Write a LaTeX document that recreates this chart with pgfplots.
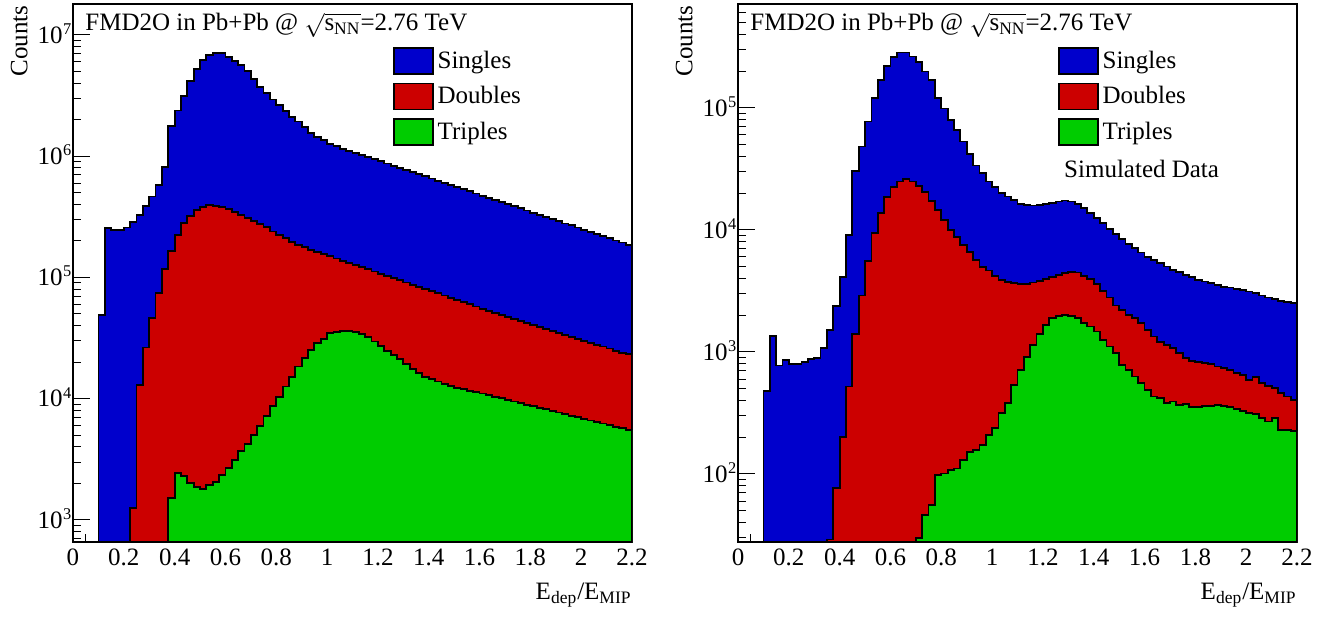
\documentclass[border=0pt]{standalone}
\usepackage{fontspec}
\setmainfont{Liberation Serif}
\usepackage{amsmath}
\usepackage{pgfplots}
\pgfplotsset{compat=1.18}
\definecolor{hblue}{RGB}{0,0,204}
\definecolor{hred}{RGB}{204,0,0}
\definecolor{hgreen}{RGB}{0,204,0}
\newcommand\f{\fontsize{12.5}{15}\selectfont}
\newcommand\tp[1]{10\kern0.3pt\smash{\raisebox{4.4pt}{\fontsize{8.2}{8.2}\selectfont #1}}}
\newcommand\ttl{FMD2O in Pb+Pb @ $\sqrt{\text{s}_{\text{NN}}}$=2.76 TeV}
\begin{document}
\begin{tikzpicture}
\path[use as bounding box] (-36.5pt,-37pt) rectangle (626pt,271pt);
\begin{axis}[
    scale only axis, width=279.5pt, height=269pt,
    xmin=0, xmax=2.2, ymode=log,
    axis line style={line width=0.6pt},
    tick style={line width=0.5pt, black},
    major tick length=8.5pt, minor tick length=4pt,
    xtick pos=bottom, ytick pos=left, tick align=inside,
    xtick={0,0.2,0.4,0.6,0.8,1,1.2,1.4,1.6,1.8,2,2.2},
    xticklabels={0,0.2,0.4,0.6,0.8,1,1.2,1.4,1.6,1.8,2,2.2},
    minor x tick num=3,
    tick label style={font=\f},
    yticklabel style={anchor=east, xshift=2.7pt},
    xlabel={E\textsubscript{dep}/E\textsubscript{MIP}},
    ylabel={Counts},
    x label style={at={(rel axis cs:1,0)}, anchor=north east, inner sep=0pt, yshift=-20.5pt, font=\f},
    y label style={at={(rel axis cs:0,1)}, anchor=south east, inner sep=0pt, yshift=22.5pt, xshift=-0.5pt, font=\f},
    legend style={at={(rel axis cs:0.5725,0.92)}, anchor=north west, draw=none, fill=none, inner sep=0pt, outer sep=0pt, row sep=3.5pt, font=\f},
    legend cell align=left,
    legend image code/.code={\draw[#1, line width=0.8pt] (0pt,-6.5pt) rectangle (19.5pt,6.5pt);},
    ymin=658, ymax=1.8e7,
    ytick={1e3,1e4,1e5,1e6,1e7},
    yticklabels={\tp{3},\tp{4},\tp{5},\tp{6},\tp{7}},
    minor ytick={700,800,900,2000,3000,4000,5000,6000,7000,8000,9000,2e4,3e4,4e4,5e4,6e4,7e4,8e4,9e4,2e5,3e5,4e5,5e5,6e5,7e5,8e5,9e5,2e6,3e6,4e6,5e6,6e6,7e6,8e6,9e6}]
\addplot[const plot mark left, draw=black, line width=0.9pt, fill=hblue] coordinates {(0.1,4.9e4)(0.125,2.55e5)(0.15,2.47e5)(0.175,2.47e5)(0.2,2.58e5)(0.225,2.88e5)(0.25,3.27e5)(0.275,3.89e5)(0.3,4.65e5)(0.325,5.79e5)(0.35,8.2e5)(0.375,1.78e6)(0.4,2.38e6)(0.425,3.16e6)(0.45,4.20e6)(0.475,5.25e6)(0.5,6.22e6)(0.525,6.84e6)(0.55,7.14e6)(0.575,7.06e6)(0.6,6.62e6)(0.625,6.14e6)(0.65,5.66e6)(0.675,5.08e6)(0.7,4.34e6)(0.725,3.70e6)(0.75,3.30e6)(0.775,2.94e6)(0.8,2.65e6)(0.825,2.36e6)(0.85,2.12e6)(0.875,1.93e6)(0.9,1.75e6)(0.925,1.56e6)(0.95,1.45e6)(0.975,1.36e6)(1.0,1.27e6)(1.025,1.21e6)(1.05,1.15e6)(1.075,1.109e6)(1.1,1.064e6)(1.125,1.023e6)(1.15,9.82e5)(1.175,9.42e5)(1.2,9.06e5)(1.225,8.69e5)(1.25,8.36e5)(1.275,8.02e5)(1.3,7.69e5)(1.325,7.40e5)(1.35,7.10e5)(1.375,6.82e5)(1.4,6.55e5)(1.425,6.28e5)(1.45,6.04e5)(1.475,5.79e5)(1.5,5.57e5)(1.525,5.35e5)(1.55,5.13e5)(1.575,4.93e5)(1.6,4.73e5)(1.625,4.55e5)(1.65,4.37e5)(1.675,4.19e5)(1.7,4.03e5)(1.725,3.86e5)(1.75,3.72e5)(1.775,3.56e5)(1.8,3.42e5)(1.825,3.29e5)(1.85,3.16e5)(1.875,3.03e5)(1.9,2.91e5)(1.925,2.79e5)(1.95,2.69e5)(1.975,2.58e5)(2.0,2.48e5)(2.025,2.38e5)(2.05,2.28e5)(2.075,2.19e5)(2.1,2.10e5)(2.125,2.02e5)(2.15,1.94e5)(2.175,1.86e5)(2.2,1.86e5)} \closedcycle;
\addplot[const plot mark left, draw=black, line width=0.9pt, fill=hred] coordinates {(0.225,1.25e3)(0.25,1.30e4)(0.275,2.64e4)(0.3,4.6e4)(0.325,7.4e4)(0.35,1.17e5)(0.375,1.66e5)(0.4,2.24e5)(0.425,2.80e5)(0.45,3.21e5)(0.475,3.60e5)(0.5,3.84e5)(0.525,3.96e5)(0.55,3.91e5)(0.575,3.79e5)(0.6,3.65e5)(0.625,3.49e5)(0.65,3.28e5)(0.675,3.08e5)(0.7,2.92e5)(0.725,2.76e5)(0.75,2.59e5)(0.775,2.39e5)(0.8,2.24e5)(0.825,2.11e5)(0.85,1.97e5)(0.875,1.85e5)(0.9,1.77e5)(0.925,1.69e5)(0.95,1.63e5)(0.975,1.56e5)(1.0,1.496e5)(1.025,1.435e5)(1.05,1.377e5)(1.075,1.321e5)(1.1,1.268e5)(1.125,1.216e5)(1.15,1.167e5)(1.175,1.119e5)(1.2,1.074e5)(1.225,1.030e5)(1.25,9.89e4)(1.275,9.48e4)(1.3,9.10e4)(1.325,8.73e4)(1.35,8.38e4)(1.375,8.04e4)(1.4,7.71e4)(1.425,7.40e4)(1.45,7.10e4)(1.475,6.81e4)(1.5,6.53e4)(1.525,6.27e4)(1.55,6.01e4)(1.575,5.77e4)(1.6,5.53e4)(1.625,5.31e4)(1.65,5.09e4)(1.675,4.89e4)(1.7,4.69e4)(1.725,4.52e4)(1.75,4.36e4)(1.775,4.20e4)(1.8,4.05e4)(1.825,3.90e4)(1.85,3.76e4)(1.875,3.61e4)(1.9,3.48e4)(1.925,3.36e4)(1.95,3.24e4)(1.975,3.12e4)(2.0,3.01e4)(2.025,2.90e4)(2.05,2.79e4)(2.075,2.69e4)(2.1,2.59e4)(2.125,2.49e4)(2.15,2.40e4)(2.175,2.32e4)(2.2,2.32e4)} \closedcycle;
\addplot[const plot mark left, draw=black, line width=0.9pt, fill=hgreen] coordinates {(0.375,1.51e3)(0.4,2.43e3)(0.425,2.31e3)(0.45,2.01e3)(0.475,1.88e3)(0.5,1.80e3)(0.525,1.95e3)(0.55,2.07e3)(0.575,2.35e3)(0.6,2.67e3)(0.625,3.12e3)(0.65,3.73e3)(0.675,4.24e3)(0.7,5.02e3)(0.725,5.96e3)(0.75,7.24e3)(0.775,8.71e3)(0.8,1.04e4)(0.825,1.26e4)(0.85,1.52e4)(0.875,1.84e4)(0.9,2.15e4)(0.925,2.52e4)(0.95,2.86e4)(0.975,3.09e4)(1.0,3.47e4)(1.025,3.57e4)(1.05,3.64e4)(1.075,3.64e4)(1.1,3.57e4)(1.125,3.43e4)(1.15,3.21e4)(1.175,2.96e4)(1.2,2.72e4)(1.225,2.49e4)(1.25,2.30e4)(1.275,2.11e4)(1.3,1.92e4)(1.325,1.76e4)(1.35,1.62e4)(1.375,1.52e4)(1.4,1.445e4)(1.425,1.384e4)(1.45,1.324e4)(1.475,1.274e4)(1.5,1.233e4)(1.525,1.197e4)(1.55,1.159e4)(1.575,1.130e4)(1.6,1.102e4)(1.625,1.069e4)(1.65,1.038e4)(1.675,1.007e4)(1.7,9.77e3)(1.725,9.48e3)(1.75,9.20e3)(1.775,8.93e3)(1.8,8.67e3)(1.825,8.41e3)(1.85,8.17e3)(1.875,7.93e3)(1.9,7.69e3)(1.925,7.46e3)(1.95,7.24e3)(1.975,7.03e3)(2.0,6.82e3)(2.025,6.62e3)(2.05,6.43e3)(2.075,6.24e3)(2.1,6.05e3)(2.125,5.87e3)(2.15,5.70e3)(2.175,5.53e3)(2.2,5.53e3)} \closedcycle;
\legend{Singles,Doubles,Triples}
\draw[line width=1pt] (rel axis cs:0,0) -- (rel axis cs:1,0);
\node[anchor=base west, inner sep=0pt, xshift=6pt, yshift=-13.5pt, font=\f] at (rel axis cs:0,1) {\ttl};
\end{axis}
\begin{axis}[at={(332.5pt,0pt)}, anchor=south west,
    scale only axis, width=279.5pt, height=269pt,
    xmin=0, xmax=2.2, ymode=log,
    axis line style={line width=0.6pt},
    tick style={line width=0.5pt, black},
    major tick length=8.5pt, minor tick length=4pt,
    xtick pos=bottom, ytick pos=left, tick align=inside,
    xtick={0,0.2,0.4,0.6,0.8,1,1.2,1.4,1.6,1.8,2,2.2},
    xticklabels={0,0.2,0.4,0.6,0.8,1,1.2,1.4,1.6,1.8,2,2.2},
    minor x tick num=3,
    tick label style={font=\f},
    yticklabel style={anchor=east, xshift=2.7pt},
    xlabel={E\textsubscript{dep}/E\textsubscript{MIP}},
    ylabel={Counts},
    x label style={at={(rel axis cs:1,0)}, anchor=north east, inner sep=0pt, yshift=-20.5pt, font=\f},
    y label style={at={(rel axis cs:0,1)}, anchor=south east, inner sep=0pt, yshift=22.5pt, xshift=-0.5pt, font=\f},
    legend style={at={(rel axis cs:0.5725,0.92)}, anchor=north west, draw=none, fill=none, inner sep=0pt, outer sep=0pt, row sep=3.5pt, font=\f},
    legend cell align=left,
    legend image code/.code={\draw[#1, line width=0.8pt] (0pt,-6.5pt) rectangle (19.5pt,6.5pt);},
    ymin=27.7, ymax=7.1e5,
    ytick={1e2,1e3,1e4,1e5},
    yticklabels={\tp{2},\tp{3},\tp{4},\tp{5}},
    minor ytick={30,40,50,60,70,80,90,200,300,400,500,600,700,800,900,2000,3000,4000,5000,6000,7000,8000,9000,2e4,3e4,4e4,5e4,6e4,7e4,8e4,9e4,2e5,3e5,4e5,5e5,6e5,7e5}]
\addplot[const plot mark left, draw=black, line width=0.9pt, fill=hblue] coordinates {(0.1,482)(0.125,1360)(0.15,773)(0.175,859)(0.2,792)(0.225,792)(0.25,832)(0.275,877)(0.3,897)(0.325,1070)(0.35,1510)(0.375,2380)(0.4,4140)(0.425,9100)(0.45,3.06e4)(0.475,4.82e4)(0.5,7.72e4)(0.525,1.20e5)(0.55,1.70e5)(0.575,2.21e5)(0.6,2.60e5)(0.625,2.84e5)(0.65,2.84e5)(0.675,2.64e5)(0.7,2.37e5)(0.725,1.99e5)(0.75,1.70e5)(0.775,1.20e5)(0.8,9.9e4)(0.825,7.98e4)(0.85,6.61e4)(0.875,5.30e4)(0.9,4.20e4)(0.925,3.37e4)(0.95,2.91e4)(0.975,2.49e4)(1.0,2.26e4)(1.025,2.02e4)(1.05,1.88e4)(1.075,1.76e4)(1.1,1.62e4)(1.125,1.60e4)(1.15,1.585e4)(1.175,1.60e4)(1.2,1.62e4)(1.225,1.66e4)(1.25,1.71e4)(1.275,1.74e4)(1.3,1.71e4)(1.325,1.62e4)(1.35,1.51e4)(1.375,1.38e4)(1.4,1.25e4)(1.425,1.135e4)(1.45,1.014e4)(1.475,9.23e3)(1.5,8.39e3)(1.525,7.69e3)(1.55,7.08e3)(1.575,6.53e3)(1.6,6.04e3)(1.625,5.68e3)(1.65,5.33e3)(1.675,5.01e3)(1.7,4.70e3)(1.725,4.50e3)(1.75,4.28e3)(1.775,4.09e3)(1.8,3.89e3)(1.825,3.78e3)(1.85,3.66e3)(1.875,3.55e3)(1.9,3.43e3)(1.925,3.37e3)(1.95,3.28e3)(1.975,3.22e3)(2.0,3.13e3)(2.025,3.03e3)(2.05,2.90e3)(2.075,2.79e3)(2.1,2.70e3)(2.125,2.62e3)(2.15,2.55e3)(2.175,2.51e3)(2.2,2.51e3)} \closedcycle;
\addplot[const plot mark left, draw=black, line width=0.9pt, fill=hred] coordinates {(0.35,29)(0.375,77)(0.4,202)(0.425,520)(0.45,1400)(0.475,2900)(0.5,5600)(0.525,9400)(0.55,1.37e4)(0.575,1.85e4)(0.6,2.24e4)(0.625,2.49e4)(0.65,2.60e4)(0.675,2.49e4)(0.7,2.30e4)(0.725,2.06e4)(0.75,1.73e4)(0.775,1.46e4)(0.8,1.21e4)(0.825,1.00e4)(0.85,8.81e3)(0.875,7.53e3)(0.9,6.56e3)(0.925,5.68e3)(0.95,5.00e3)(0.975,4.65e3)(1.0,4.20e3)(1.025,3.89e3)(1.05,3.77e3)(1.075,3.66e3)(1.1,3.61e3)(1.125,3.63e3)(1.15,3.70e3)(1.175,3.80e3)(1.2,3.94e3)(1.225,4.12e3)(1.25,4.27e3)(1.275,4.42e3)(1.3,4.52e3)(1.325,4.47e3)(1.35,4.22e3)(1.375,3.94e3)(1.4,3.59e3)(1.425,3.16e3)(1.45,2.79e3)(1.475,2.40e3)(1.5,2.19e3)(1.525,2.00e3)(1.55,1.89e3)(1.575,1.72e3)(1.6,1.51e3)(1.625,1.34e3)(1.65,1.21e3)(1.675,1.14e3)(1.7,1.07e3)(1.725,975)(1.75,887)(1.775,843)(1.8,832)(1.825,817)(1.85,794)(1.875,759)(1.9,741)(1.925,711)(1.95,676)(1.975,647)(2.0,589)(2.025,619)(2.05,553)(2.075,525)(2.1,504)(2.125,458)(2.15,431)(2.175,405)(2.2,405)} \closedcycle;
\addplot[const plot mark left, draw=black, line width=0.9pt, fill=hgreen] coordinates {(0.7,30)(0.725,46)(0.75,56)(0.775,98)(0.8,101)(0.825,107)(0.85,111)(0.875,130)(0.9,152)(0.925,157)(0.95,173)(0.975,209)(1.0,237)(1.025,314)(1.05,384)(1.075,537)(1.1,708)(1.125,912)(1.15,1148)(1.175,1413)(1.2,1660)(1.225,1905)(1.25,1972)(1.275,2009)(1.3,1972)(1.325,1888)(1.35,1718)(1.375,1614)(1.4,1469)(1.425,1253)(1.45,1107)(1.475,975)(1.5,782)(1.525,711)(1.55,628)(1.575,553)(1.6,489)(1.625,431)(1.65,417)(1.675,380)(1.7,392)(1.725,368)(1.75,375)(1.775,352)(1.8,356)(1.825,361)(1.85,361)(1.875,368)(1.9,361)(1.925,352)(1.95,339)(1.975,330)(2.0,314)(2.025,310)(2.05,288)(2.075,269)(2.1,286)(2.125,230)(2.15,228)(2.175,226)(2.2,226)} \closedcycle;
\legend{Singles,Doubles,Triples}
\draw[line width=1pt] (rel axis cs:0,0) -- (rel axis cs:1,0);
\node[anchor=base west, inner sep=0pt, xshift=6pt, yshift=-13.5pt, font=\f] at (rel axis cs:0,1) {\ttl};
\node[font=\f, anchor=base] at (rel axis cs:0.722,0.6766) {Simulated Data};
\end{axis}
\end{tikzpicture}
\end{document}
